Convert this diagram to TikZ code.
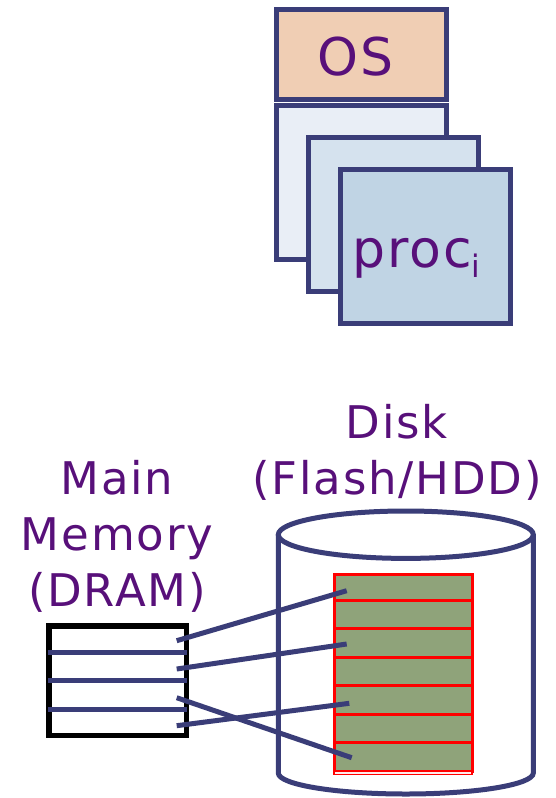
\documentclass[tikz,border=0pt]{standalone}
\usepackage{fontspec}
\setmainfont{DejaVu Sans}
\newfontfamily\lblfont{DejaVu Sans}[LetterSpace=4]
\usetikzlibrary{calc}
\definecolor{edge}{RGB}{58,61,120}
\definecolor{txt}{RGB}{88,16,122}
\definecolor{osfill}{RGB}{240,206,180}
\definecolor{pfillA}{RGB}{233,238,246}
\definecolor{pfillB}{RGB}{213,226,238}
\definecolor{pfillC}{RGB}{192,212,228}
\definecolor{cellgreen}{RGB}{143,163,122}
\begin{document}
\begin{tikzpicture}[x=1pt,y=-1pt,
  pbox/.style={draw=edge, line width=5pt, rectangle, inner sep=0pt},
  toplbl/.style={text=txt, inner sep=0pt, font=\lblfont\fontsize{52}{60}\selectfont},
  lowlbl/.style={text=txt, inner sep=0pt, align=center, font=\lblfont\fontsize{45}{56}\selectfont},
  link/.style={draw=edge, line width=5pt},
  divider/.style={draw=edge, line width=4.5pt},
  cellbox/.style={draw=red, fill=cellgreen, line width=3pt},
  cyl/.style={draw=edge, line width=5pt}]
\useasboundingbox (0,0) rectangle (556,798);

% process / OS stack
\node[pbox, fill=osfill, minimum width=170.7pt, minimum height=90pt] (os) at (361.35,54.5) {};
\node[pbox, fill=pfillA, minimum width=170.7pt, minimum height=154pt] (procA) at (361.35,182) {};
\node[pbox, fill=pfillB, minimum width=170pt, minimum height=154.4pt] (procB) at (393.3,214.5) {};
\node[pbox, fill=pfillC, minimum width=170.7pt, minimum height=154.3pt] (procC) at (425.35,246.15) {};
\node[toplbl, anchor=base] (oslbl) at (356,75) {OS};
\node[toplbl, anchor=base west] (proclbl) at (352,267.7) {proc\kern-1pt\raisebox{-10pt}{\fontsize{31}{31}\selectfont i}};

% labels
\node[lowlbl, anchor=base] (memlbl) at (117,606.7) {Main\\Memory\\(DRAM)};
\node[lowlbl, anchor=base] (disklbl) at (397,494) {Disk\\(Flash/HDD)};

% disk cylinder
\path[fill=white] (278.3,534.7) -- (278.3,773)
  arc[start angle=180, end angle=360, x radius=127.5pt, y radius=21pt]
  -- (533.3,534.7)
  arc[start angle=0, end angle=180, x radius=127.5pt, y radius=23.7pt] -- cycle;
\draw[cyl] (278.3,534.7) -- (278.3,773)
  arc[start angle=180, end angle=360, x radius=127.5pt, y radius=21pt]
  -- (533.3,534.7);
\draw[cyl] (405.8,534.7) ellipse[x radius=127.5pt, y radius=23.7pt];

% disk blocks
\foreach \t/\b in {574/600,600/628.5,628.5/657,657/685.5,685.5/714,714/742.7,742.7/771.5}
  \draw[cellbox] (334,\t) rectangle (472,\b);
\draw[draw=red, fill=red!8, line width=1.5pt] (334,771.5) rectangle (472,774.5);

% main memory
\node[draw=black, fill=white, line width=5.3pt, rectangle, inner sep=0pt,
      minimum width=137.7pt, minimum height=109.5pt] (dram) at (117.85,680.75) {};
\draw[divider] (48.3,652.3) -- (186.7,652.3);
\draw[divider] (48.3,680.7) -- (186.7,680.7);
\draw[divider] (48.3,709.3) -- (186.7,709.3);

% mapping
\coordinate (m1) at (176.7,640.7);
\coordinate (m2) at (176.7,669);
\coordinate (m3) at (176.7,697.7);
\coordinate (m4) at (176.7,725.7);
\coordinate (d1) at (346.7,590.7);
\coordinate (d2) at (346.7,644);
\coordinate (d3) at (351.7,757.7);
\coordinate (d4) at (349.3,703.3);
\draw[link] (m1) -- (d1);
\draw[link] (m2) -- (d2);
\draw[link] (m3) -- (d3);
\draw[link] (m4) -- (d4);
\end{tikzpicture}
\end{document}
